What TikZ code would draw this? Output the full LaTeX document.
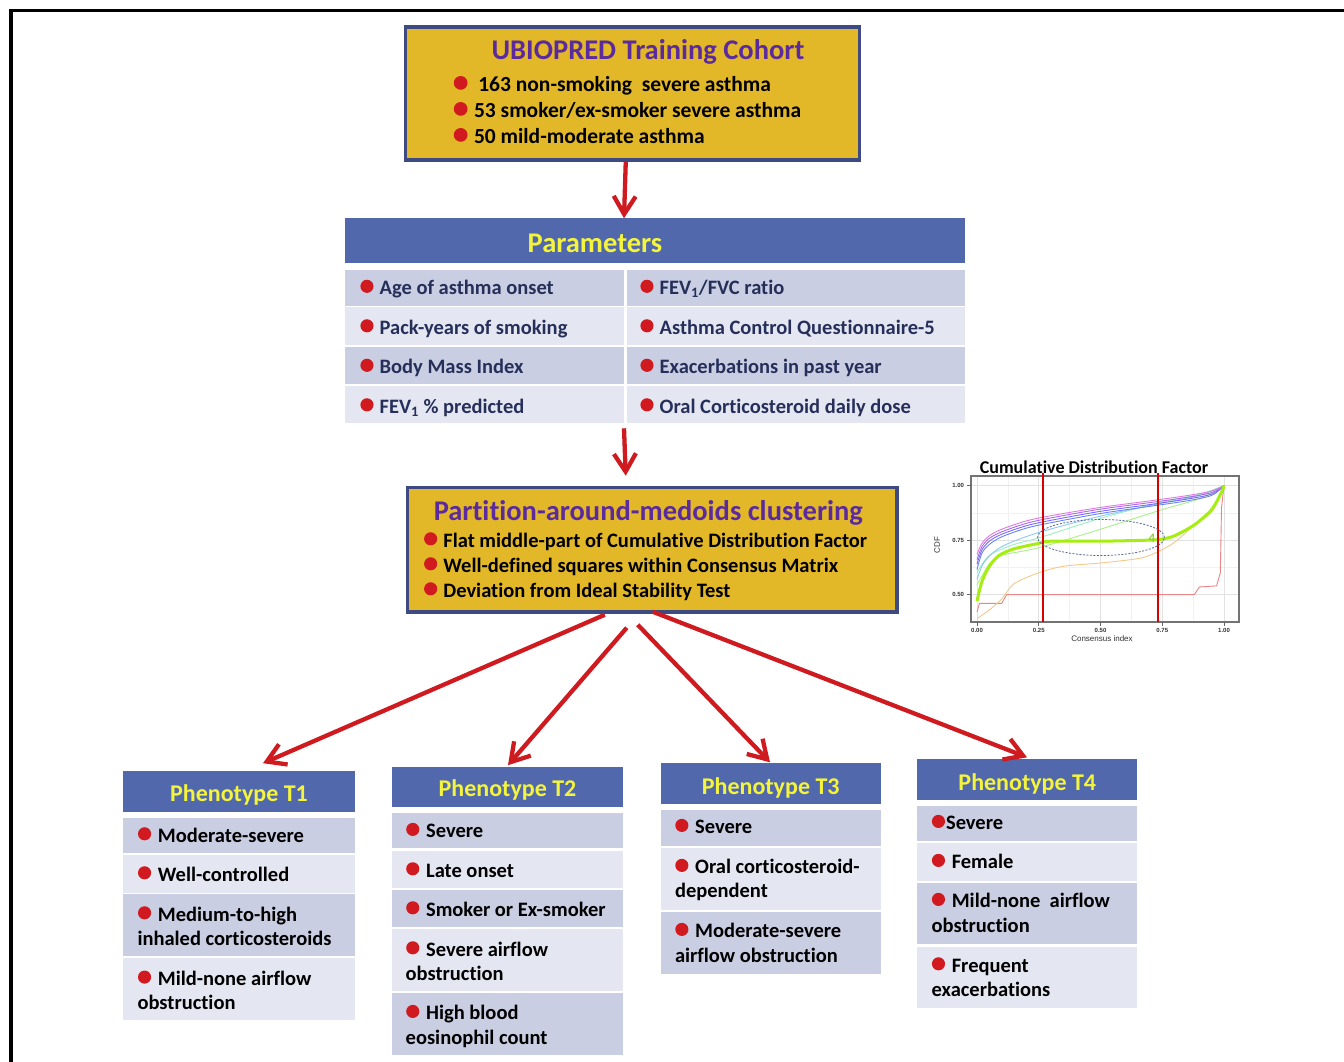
\documentclass[tikz,border=0pt]{standalone}
\usepackage{fontspec}
\setmainfont{Carlito}[RawFeature={-liga;-clig;-calt}]
\newfontfamily\arialf{Liberation Sans}
\usetikzlibrary{arrows.meta}
\definecolor{gold}{HTML}{E3B828}
\definecolor{boxblue}{HTML}{3D4B82}
\definecolor{hdrblue}{HTML}{5168AD}
\definecolor{rowdark}{HTML}{C9CEE2}
\definecolor{rowlight}{HTML}{E4E7F1}
\definecolor{ttlpurple}{HTML}{5B2B9E}
\definecolor{hdryellow}{HTML}{F4F43C}
\definecolor{bulred}{HTML}{D11A1F}
\definecolor{arrred}{HTML}{CF1B20}
\definecolor{navy}{HTML}{252F5A}
\definecolor{gridc}{HTML}{E2E2E2}
\definecolor{gridm}{HTML}{F1F1F1}
\newcommand\ftitle{\bfseries\fontsize{28.5}{30}\selectfont}
\newcommand\fcoh{\bfseries\fontsize{21.5}{24}\selectfont}
\newcommand\fpar{\bfseries\fontsize{20.5}{24}\selectfont}
\newcommand\fph{\bfseries\fontsize{20.5}{24}\selectfont}
\newcommand\fhdr{\bfseries\fontsize{24}{26}\selectfont}
\newcommand\bul{\tikz[baseline=0pt]\fill[bulred] (0pt,0.4em) circle[radius=0.32em];}
\newcommand\cellbox[6]{\node[#2,minimum width=#5pt,minimum height=#6pt] (#1) at (#3,#4) {};}
\newcommand\bline[5]{\node[ptxt] (#1) at (#2,#3) {\bul\hspace{#4}#5};}
\newcommand\pline[4]{\node[ptxt] (#1) at (#2,#3) {#4};}
\begin{document}
\begin{tikzpicture}[x=1pt,y=-1pt,
  goldbox/.style={draw=boxblue,line width=3.5pt,fill=gold,inner sep=0pt,anchor=north west},
  cellb/.style={inner sep=0pt,outer sep=0pt,anchor=north west,draw=none},
  hdr/.style={cellb,fill=hdrblue},
  rowd/.style={cellb,fill=rowdark},
  rowl/.style={cellb,fill=rowlight},
  arr/.style={draw=arrred,line width=4.3pt,-{Straight Barb[length=18pt,width=22pt]}},
  ptxt/.style={anchor=base west,inner sep=0pt,outer sep=0pt},
  htxt/.style={anchor=base,inner sep=0pt,outer sep=0pt},
  hdrtxt/.style={htxt,font=\fhdr,text=hdryellow},
  ctxt/.style={inner sep=0pt,outer sep=0pt,font=\arialf\bfseries\fontsize{6}{7}\selectfont,text=black!80},
]
\useasboundingbox (0,0) rectangle (1344,1062);
\fill[white] (0,0) rectangle (1344,1062);
\draw[black,line width=3.5pt,line join=miter] (11,1062) -- (11,10.5) -- (1344,10.5);

% ---------- cohort box
\node[goldbox,minimum width=454pt,minimum height=133pt] (coh) at (403.5,25.5) {};
\node[htxt,font=\ftitle,text=ttlpurple] (cohT) at (648,60) {UBIOPRED Training Cohort};
\begin{scope}[font=\fcoh]
\bline{coh1}{453.8}{91.5}{0.5em}{163 non-smoking~ severe asthma}
\bline{coh2}{453.8}{117.5}{0.3em}{53 smoker/ex-smoker severe asthma}
\bline{coh3}{453.8}{143.5}{0.3em}{50 mild-moderate asthma}
\end{scope}

% ---------- parameters
\cellbox{parhdr}{hdr}{345}{218.3}{620}{45}
\node[htxt,font=\ftitle,text=hdryellow] (parT) at (595,252) {Parameters};
\cellbox{p1l}{rowd}{345}{270}{279}{35.7}
\cellbox{p1r}{rowd}{626.5}{270}{338.5}{35.7}
\cellbox{p2l}{rowl}{345}{307.3}{279}{37.7}
\cellbox{p2r}{rowl}{626.5}{307.3}{338.5}{37.7}
\cellbox{p3l}{rowd}{345}{346.7}{279}{37.3}
\cellbox{p3r}{rowd}{626.5}{346.7}{338.5}{37.3}
\cellbox{p4l}{rowl}{345}{386}{279}{37.3}
\cellbox{p4r}{rowl}{626.5}{386}{338.5}{37.3}
\begin{scope}[font=\fpar,text=navy]
\bline{pt1l}{360.4}{294.5}{0.3em}{Age of asthma onset}
\bline{pt2l}{360.4}{334}{0.3em}{Pack-years of smoking}
\bline{pt3l}{360.4}{373.5}{0.3em}{Body Mass Index}
\bline{pt4l}{360.4}{413}{0.3em}{FEV\textsubscript{1} \% predicted}
\bline{pt1r}{640.4}{294.5}{0.3em}{FEV\textsubscript{1}/FVC ratio}
\bline{pt2r}{640.4}{334}{0.3em}{Asthma Control Questionnaire-5}
\bline{pt3r}{640.4}{373.5}{0.3em}{Exacerbations in past year}
\bline{pt4r}{640.4}{413}{0.3em}{Oral Corticosteroid daily dose}
\end{scope}

% ---------- PAM box
\node[goldbox,minimum width=489.5pt,minimum height=124.5pt] (pam) at (405.75,485.75) {};
\node[htxt,font=\ftitle,text=ttlpurple] (pamT) at (648.3,520) {Partition-around-medoids clustering};
\begin{scope}[font=\fpar]
\bline{pam1}{424.1}{547}{0.3em}{Flat middle-part of Cumulative Distribution Factor}
\bline{pam2}{424.1}{572}{0.3em}{Well-defined squares within Consensus Matrix}
\bline{pam3}{424.1}{597}{0.3em}{Deviation from Ideal Stability Test}
\end{scope}

% ---------- phenotype T1
\cellbox{t1h}{hdr}{123}{770.7}{231.5}{41}
\cellbox{t1r1}{rowd}{123}{817.7}{231.5}{35}
\cellbox{t1r2}{rowl}{123}{855}{231.5}{37.7}
\cellbox{t1r3}{rowd}{123}{894.3}{231.5}{61.7}
\cellbox{t1r4}{rowl}{123}{958.3}{231.5}{61.7}
\node[hdrtxt] (t1T) at (239,801) {Phenotype T1};
% ---------- phenotype T2
\cellbox{t2h}{hdr}{392}{766.7}{231}{40}
\cellbox{t2r1}{rowd}{392}{813.3}{231}{35}
\cellbox{t2r2}{rowl}{392}{850.7}{231}{37}
\cellbox{t2r3}{rowd}{392}{890}{231}{36.7}
\cellbox{t2r4}{rowl}{392}{929.3}{231}{61.4}
\cellbox{t2r5}{rowd}{392}{993.3}{231}{61.7}
\node[hdrtxt] (t2T) at (507.5,796.7) {Phenotype T2};
% ---------- phenotype T3
\cellbox{t3h}{hdr}{660.7}{763.3}{220}{40.7}
\cellbox{t3r1}{rowd}{660.7}{810}{220}{36}
\cellbox{t3r2}{rowl}{660.7}{847.7}{220}{62.3}
\cellbox{t3r3}{rowd}{660.7}{911.7}{220}{62.3}
\node[hdrtxt] (t3T) at (770.7,794.3) {Phenotype T3};
% ---------- phenotype T4
\cellbox{t4h}{hdr}{917.3}{759.3}{220}{40.7}
\cellbox{t4r1}{rowd}{917.3}{806}{220}{35}
\cellbox{t4r2}{rowl}{917.3}{843.3}{220}{37.4}
\cellbox{t4r3}{rowd}{917.3}{882.7}{220}{61.6}
\cellbox{t4r4}{rowl}{917.3}{946.7}{220}{61.6}
\node[hdrtxt] (t4T) at (1027.3,790) {Phenotype T4};

\begin{scope}[font=\fph,text=black]
\bline{a1}{138}{842}{0.33em}{Moderate-severe}
\bline{a2}{138}{881}{0.33em}{Well-controlled}
\bline{a3}{138}{921}{0.33em}{Medium-to-high}
\pline{a3b}{137.5}{945.3}{inhaled corticosteroids}
\bline{a4}{138}{985.3}{0.33em}{Mild-none airflow}
\pline{a4b}{137.5}{1009.6}{obstruction}

\bline{b1}{406.2}{837.6}{0.33em}{Severe}
\bline{b2}{406.2}{877}{0.33em}{Late onset}
\bline{b3}{406.2}{916}{0.33em}{Smoker or Ex-smoker}
\bline{b4}{406.2}{956}{0.33em}{Severe airflow}
\pline{b4b}{405.7}{980.3}{obstruction}
\bline{b5}{406.2}{1019.6}{0.33em}{High blood}
\pline{b5b}{405.7}{1044.3}{eosinophil count}

\bline{c1}{675.3}{833.6}{0.33em}{Severe}
\bline{c2}{675.3}{873.6}{0.33em}{Oral corticosteroid-}
\pline{c2b}{675}{897}{dependent}
\bline{c3}{675.3}{937.6}{0.33em}{Moderate-severe}
\pline{c3b}{675}{962}{airflow obstruction}

\bline{d1}{931.9}{829.6}{0.05em}{Severe}
\bline{d2}{931.9}{868.6}{0.33em}{Female}
\bline{d3}{931.9}{907.6}{0.33em}{Mild-none~ airflow}
\pline{d3b}{931.7}{932}{obstruction}
\bline{d4}{931.9}{972}{0.33em}{Frequent}
\pline{d4b}{931.7}{996.3}{exacerbations}
\end{scope}

% ---------- arrows
\draw[arr] ([xshift=-6.5pt]coh.south) -- ([xshift=-31pt]parhdr.north);
\draw[arr] ([shift={(0,5)}]p4l.south east) -- ([shift={(-26.5,-10)}]pam.north);
\draw[arr] ([shift={(-47.5,1)}]pam.south) -- ([shift={(24.25,-7.5)}]t1h.north);
\draw[arr] ([shift={(-25.5,14)}]pam.south) -- ([shift={(0.5,-1.5)}]t2h.north);
\draw[arr] ([shift={(-14.5,11)}]pam.south) -- ([shift={(-0.7,-1)}]t3h.north);
\draw[arr] ([shift={(0.5,-2)}]pam.south) -- ([shift={(-0.3,-2)}]t4h.north);

% ---------- CDF chart
\node[htxt,font=\bfseries\fontsize{18}{20}\selectfont] (chT) at (1094,473) {Cumulative Distribution Factor};
\begin{scope}
\clip (971,476) rectangle (1239,622);
\foreach \u in {0.125,0.375,0.625,0.875} \draw[gridm,line width=0.6pt] ({977+247*\u},476) -- ({977+247*\u},622);
\foreach \v in {0.625,0.875} \draw[gridm,line width=0.6pt] (971,{703.6-218*\v}) -- (1239,{703.6-218*\v});
\foreach \u in {0,0.25,0.5,0.75,1} \draw[gridc,line width=0.8pt] ({977+247*\u},476) -- ({977+247*\u},622);
\foreach \v in {0.5,0.75,1} \draw[gridc,line width=0.8pt] (971,{703.6-218*\v}) -- (1239,{703.6-218*\v});
\begin{scope}[shift={(977,703.6)},x=247pt,y=218pt,line join=round]
\draw[color={rgb,255:red,232;green,133;blue,133},line width=0.9pt] (0,0.42) -- (0.01,0.46) -- (0.1,0.46) -- (0.12,0.5) -- (0.88,0.5) -- (0.9,0.535) -- (0.97,0.54) -- (0.985,0.6) -- (0.99,0.9) -- (1,1);
\draw[color={rgb,255:red,245;green,201;blue,138},line width=0.9pt] plot[smooth,tension=0.5] coordinates {(0,0.39) (0.05,0.43) (0.1,0.48) (0.15,0.55) (0.25,0.6) (0.35,0.63) (0.5,0.645) (0.65,0.665) (0.72,0.69) (0.8,0.74) (0.88,0.82) (0.95,0.88) (0.99,0.97) (1,1)};
\draw[color={rgb,255:red,168;green,240;blue,138},line width=0.9pt] plot[smooth,tension=0.5] coordinates {(0,0.545) (0.05,0.64) (0.1,0.68) (0.25,0.715) (0.5,0.8) (0.75,0.89) (0.9,0.94) (1,1)};
\draw[color={rgb,255:red,154;green,240;blue,192},line width=0.9pt] plot[smooth,tension=0.5] coordinates {(0,0.6) (0.05,0.68) (0.15,0.73) (0.25,0.76) (0.5,0.85) (0.75,0.925) (0.9,0.96) (1,1)};
\draw[color={rgb,255:red,140;green,200;blue,245},line width=0.9pt] plot[smooth,tension=0.5] coordinates {(0,0.57) (0.03,0.65) (0.1,0.72) (0.25,0.785) (0.5,0.86) (0.75,0.92) (0.9,0.955) (1,1)};
\draw[color={rgb,255:red,106;green,134;blue,240},line width=0.9pt] plot[smooth,tension=0.5] coordinates {(0,0.615) (0.02,0.69) (0.05,0.73) (0.1,0.765) (0.2,0.805) (0.3,0.83) (0.5,0.872) (0.7,0.905) (0.85,0.93) (0.95,0.955) (1,1)};
\draw[color={rgb,255:red,123;green,107;blue,240},line width=0.9pt] plot[smooth,tension=0.5] coordinates {(0,0.64) (0.02,0.705) (0.05,0.745) (0.1,0.777) (0.2,0.816) (0.3,0.841) (0.5,0.882) (0.7,0.913) (0.85,0.938) (0.95,0.961) (1,1)};
\draw[color={rgb,255:red,168;green,107;blue,232},line width=0.9pt] plot[smooth,tension=0.5] coordinates {(0,0.66) (0.02,0.72) (0.05,0.758) (0.1,0.788) (0.2,0.827) (0.3,0.852) (0.5,0.892) (0.7,0.922) (0.85,0.946) (0.95,0.968) (1,1)};
\draw[color={rgb,255:red,224;green,123;blue,224},line width=0.9pt] plot[smooth,tension=0.5] coordinates {(0,0.685) (0.02,0.735) (0.05,0.77) (0.1,0.8) (0.2,0.838) (0.3,0.862) (0.5,0.9) (0.7,0.93) (0.85,0.954) (0.95,0.975) (1,1)};
\draw[color={rgb,255:red,166;green,238;blue,16},line width=3pt] plot[smooth,tension=0.5] coordinates {(0,0.47) (0.02,0.56) (0.05,0.63) (0.09,0.68) (0.15,0.71) (0.25,0.735) (0.3,0.745) (0.5,0.745) (0.7,0.75) (0.75,0.755) (0.8,0.77) (0.88,0.82) (0.95,0.89) (0.99,0.97) (1,1)};
\end{scope}
\end{scope}
\draw[black!55,line width=1.2pt] (971,476) rectangle (1239,622);
\foreach \v in {0.5,0.75,1} \draw[black!60,line width=0.8pt] (967,{703.6-218*\v}) -- (971,{703.6-218*\v});
\foreach \u in {0,0.25,0.5,0.75,1} \draw[black!60,line width=0.8pt] ({977+247*\u},622) -- ({977+247*\u},626);
\draw[red!85!black,line width=1.4pt] (1043,473) -- (1043,622);
\draw[red!85!black,line width=1.4pt] (1158,473) -- (1158,622);
\draw[color={rgb,255:red,90;green,105;blue,150},line width=0.8pt,dash pattern=on 2pt off 1.5pt] (1101,537.5) ellipse[x radius=63.5pt,y radius=18pt];
\node[inner sep=0pt,font=\bfseries\fontsize{13}{13}\selectfont,text={rgb,255:red,150;green,205;blue,70}] (ch4) at (1152,538) {4};
\node[ctxt,anchor=east] (cy1) at (964,485.6) {1.00};
\node[ctxt,anchor=east] (cy2) at (964,540.1) {0.75};
\node[ctxt,anchor=east] (cy3) at (964,594.6) {0.50};
\node[ctxt] (cx1) at (977,630.5) {0.00};
\node[ctxt] (cx2) at (1038.75,630.5) {0.25};
\node[ctxt] (cx3) at (1100.5,630.5) {0.50};
\node[ctxt] (cx4) at (1162.25,630.5) {0.75};
\node[ctxt] (cx5) at (1224,630.5) {1.00};
\node[ctxt,font=\arialf\fontsize{8}{9}\selectfont] (cxl) at (1102,639) {Consensus index};
\node[ctxt,font=\arialf\fontsize{8}{9}\selectfont,rotate=90] (cyl) at (937,545) {CDF};
\end{tikzpicture}
\end{document}
